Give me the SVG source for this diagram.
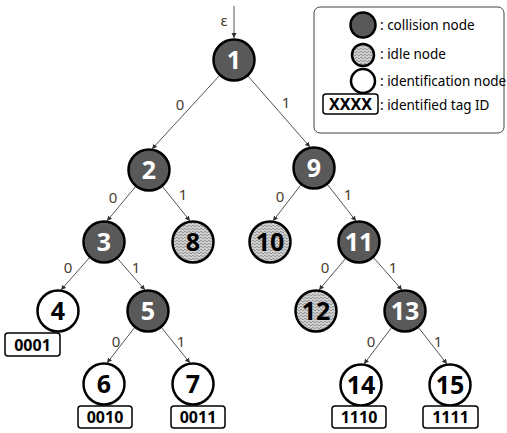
<svg xmlns="http://www.w3.org/2000/svg" width="507" height="433" viewBox="0 0 507 433">
<defs>
<pattern id="idle" width="4" height="3" patternUnits="userSpaceOnUse">
<rect width="4" height="3" fill="#e6e6e6"/>
<path d="M0,1 Q1,0 2,1 T4,1" fill="none" stroke="#555" stroke-width="0.7"/>
<circle cx="1" cy="2.4" r="0.45" fill="#777"/>
<circle cx="3" cy="2.4" r="0.45" fill="#777"/>
</pattern>
<marker id="arr" markerWidth="6" markerHeight="6" refX="5" refY="3" orient="auto" markerUnits="userSpaceOnUse">
<path d="M0,0.5 L5,3 L0,5.5 Z" fill="#333"/>
</marker>
</defs>
<style>
.col{fill:#595959;stroke:#000;stroke-width:2.5}
.idl{fill:url(#idle);stroke:#000;stroke-width:2.5}
.idn{fill:#fff;stroke:#000;stroke-width:2.5}
.nw{font-family:"Noto Sans","Open Sans",sans-serif;font-weight:bold;font-size:25px;fill:#fff;text-anchor:middle}
.nb{font-family:"Noto Sans","Open Sans",sans-serif;font-weight:bold;font-size:25px;fill:#000;text-anchor:middle}
.e{stroke:#555;stroke-width:1;fill:none;marker-end:url(#arr)}
.lb{font-family:"Noto Sans","Open Sans",sans-serif;font-size:15px;fill:#4a4030;text-anchor:middle}
.tag{fill:#fff;stroke:#000;stroke-width:1.5}
.tt{font-family:"Noto Sans","Open Sans",sans-serif;font-weight:bold;font-size:16px;fill:#000;text-anchor:middle}
.lg{font-family:"Noto Sans","Open Sans",sans-serif;font-size:13.5px;fill:#000}
</style>
<g id="connectors">
<line class="e" x1="234" y1="6" x2="234" y2="38"/>
<line class="e" x1="220" y1="75" x2="152" y2="149"/>
<line class="e" x1="247.5" y1="75.5" x2="310" y2="147"/>
<line class="e" x1="136" y1="186" x2="107" y2="221"/>
<line class="e" x1="162" y1="186" x2="190" y2="221"/>
<line class="e" x1="301.5" y1="184" x2="273" y2="221"/>
<line class="e" x1="327" y1="184" x2="356" y2="221"/>
<line class="e" x1="90" y1="257" x2="61" y2="290"/>
<line class="e" x1="117" y1="258" x2="145" y2="290"/>
<line class="e" x1="346" y1="258" x2="319" y2="290"/>
<line class="e" x1="373" y1="257" x2="402" y2="290"/>
<line class="e" x1="135" y1="327" x2="107" y2="363"/>
<line class="e" x1="161" y1="327" x2="190" y2="363"/>
<line class="e" x1="392" y1="327" x2="364" y2="364"/>
<line class="e" x1="418" y1="327" x2="447" y2="364"/>
<text class="lb" x="224" y="26">ε</text>
<text class="lb" x="180" y="110">0</text>
<text class="lb" x="286" y="108">1</text>
<text class="lb" x="113" y="203">0</text>
<text class="lb" x="183" y="200">1</text>
<text class="lb" x="280" y="202">0</text>
<text class="lb" x="348" y="200">1</text>
<text class="lb" x="68" y="273">0</text>
<text class="lb" x="136" y="273">1</text>
<text class="lb" x="325" y="273">0</text>
<text class="lb" x="393" y="273">1</text>
<text class="lb" x="116" y="347">0</text>
<text class="lb" x="181" y="347">1</text>
<text class="lb" x="371" y="347">0</text>
<text class="lb" x="438" y="347">1</text>
</g>
<g id="n1"><circle class="col" cx="234" cy="60" r="20.5"/><text class="nw" x="234" y="69">1</text></g>
<g id="n2"><circle class="col" cx="149" cy="170" r="20.5"/><text class="nw" x="149" y="179">2</text></g>
<g id="n9"><circle class="col" cx="314" cy="168" r="20.5"/><text class="nw" x="314" y="177">9</text></g>
<g id="n3"><circle class="col" cx="104" cy="242" r="20.5"/><text class="nw" x="104" y="251">3</text></g>
<g id="n8"><circle class="idl" cx="193" cy="242" r="20.5"/><text class="nb" x="193" y="251">8</text></g>
<g id="n10"><circle class="idl" cx="270" cy="242" r="20.5"/><text class="nb" x="270" y="251">10</text></g>
<g id="n11"><circle class="col" cx="359" cy="242" r="20.5"/><text class="nw" x="359" y="251">11</text></g>
<g id="n4"><circle class="idn" cx="58" cy="311" r="20.5"/><text class="nb" x="58" y="320">4</text></g>
<g id="n5"><circle class="col" cx="148" cy="311" r="20.5"/><text class="nw" x="148" y="320">5</text></g>
<g id="n12"><circle class="idl" cx="316" cy="311" r="20.5"/><text class="nb" x="316" y="320">12</text></g>
<g id="n13"><circle class="col" cx="405" cy="311" r="20.5"/><text class="nw" x="405" y="320">13</text></g>
<g id="n6"><circle class="idn" cx="104" cy="384" r="20.5"/><text class="nb" x="104" y="393">6</text></g>
<g id="n7"><circle class="idn" cx="193" cy="384" r="20.5"/><text class="nb" x="193" y="393">7</text></g>
<g id="n14"><circle class="idn" cx="361" cy="385" r="20.5"/><text class="nb" x="361" y="394">14</text></g>
<g id="n15"><circle class="idn" cx="450" cy="385" r="20.5"/><text class="nb" x="450" y="394">15</text></g>
<g id="t4"><rect class="tag" x="5" y="333" width="55" height="23" rx="3"/><text class="tt" x="32.5" y="350.5">0001</text></g>
<g id="t6"><rect class="tag" x="78" y="406" width="54" height="22" rx="3"/><text class="tt" x="105" y="423">0010</text></g>
<g id="t7"><rect class="tag" x="171" y="406" width="54" height="22" rx="3"/><text class="tt" x="198" y="423">0011</text></g>
<g id="t14"><rect class="tag" x="332" y="406" width="54" height="22" rx="3"/><text class="tt" x="359" y="423">1110</text></g>
<g id="t15"><rect class="tag" x="423" y="406" width="55" height="22" rx="3"/><text class="tt" x="450.5" y="423">1111</text></g>
<g id="legend">
<rect x="314" y="7" width="190" height="126" rx="6" fill="#fff" stroke="#444" stroke-width="1"/>
<circle class="col" cx="363" cy="25" r="12.5" stroke-width="2"/>
<circle class="idl" cx="363" cy="55" r="11" stroke-width="2"/>
<circle class="idn" cx="363" cy="81" r="12" stroke-width="2"/>
<rect class="tag" x="323" y="94" width="55" height="20" rx="3"/>
<text class="tt" x="350.5" y="109.5" font-size="14">XXXX</text>
<text class="lg" x="380" y="30">: collision node</text>
<text class="lg" x="380" y="59">: idle node</text>
<text class="lg" x="380" y="86">: identification node</text>
<text class="lg" x="380" y="110">: identified tag ID</text>
</g>
</svg>
